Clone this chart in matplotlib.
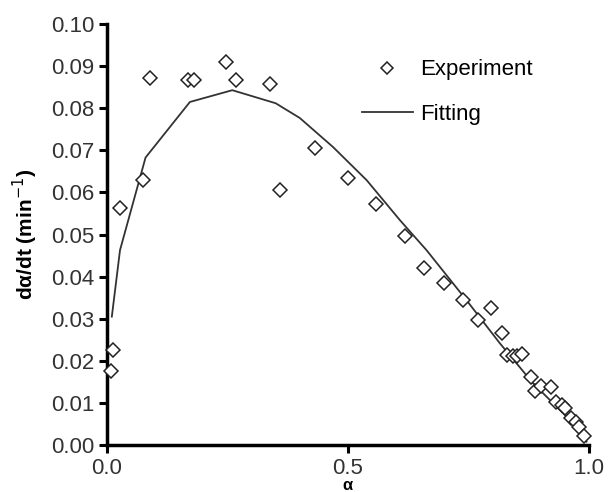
import numpy as np
from matplotlib import pyplot as plt

plt.rcParams['font.family'] = ['Liberation Sans', 'DejaVu Sans']

# experiment points (alpha, d alpha/dt)
exp_alpha = [0.008, 0.012, 0.027, 0.075, 0.089, 0.168, 0.180, 0.247, 0.268, 0.338,
             0.359, 0.432, 0.500, 0.558, 0.618, 0.658, 0.699, 0.739, 0.770, 0.797,
             0.820, 0.830, 0.842, 0.851, 0.861, 0.880, 0.888, 0.900, 0.921, 0.932,
             0.944, 0.950, 0.963, 0.973, 0.979, 0.990]
exp_rate = [0.0176, 0.0226, 0.0563, 0.0629, 0.0872, 0.0867, 0.0867, 0.0910, 0.0867, 0.0857,
            0.0606, 0.0705, 0.0634, 0.0572, 0.0496, 0.0420, 0.0385, 0.0344, 0.0297, 0.0325,
            0.0266, 0.0214, 0.0211, 0.0211, 0.0216, 0.0162, 0.0128, 0.0140, 0.0138, 0.0102,
            0.0095, 0.0088, 0.0064, 0.0055, 0.0043, 0.0021]

# fitted curve
fit_alpha = [0.010, 0.027, 0.080, 0.172, 0.260, 0.350, 0.400, 0.469, 0.539, 0.608,
             0.663, 0.746, 0.815, 0.884, 0.954, 0.995]
fit_rate = [0.0305, 0.0463, 0.0683, 0.0815, 0.0843, 0.0812, 0.0777, 0.0708, 0.0629, 0.0534,
            0.0463, 0.0344, 0.0242, 0.0147, 0.0067, 0.0008]

fig = plt.figure(figsize=(6.09, 4.92), dpi=100)
ax = fig.add_axes([0.1757, 0.0955, 0.7913, 0.8555])

ax.plot(exp_alpha, exp_rate, linestyle='none', marker='D', markersize=7.5,
        markerfacecolor='white', markeredgecolor='#222222', markeredgewidth=1.1,
        label='Experiment', clip_on=False, zorder=3)
ax.plot(fit_alpha, fit_rate, color='#333333', linewidth=1.3, label='Fitting', zorder=2)

ax.set_xlim(0, 1.0)
ax.set_ylim(0, 0.10)
ax.set_xticks([0.0, 0.5, 1.0])
ax.set_xticklabels(['0.0', '0.5', '1.0'])
ax.set_yticks(np.arange(0, 0.101, 0.01))
ax.set_yticklabels(['%.2f' % v for v in np.arange(0, 0.101, 0.01)])

for s in ['top', 'right']:
    ax.spines[s].set_visible(False)
for s in ['left', 'bottom']:
    ax.spines[s].set_linewidth(2.5)
ax.tick_params(axis='both', direction='out', length=6, width=2.2,
               labelsize=16, colors='black', labelcolor='#333333', pad=3)

ax.set_ylabel('d\u03b1/dt (min$^{-1}$)', fontsize=15, fontweight='bold', labelpad=8)
ax.set_xlabel('\u03b1', fontsize=12, fontweight='bold', va='baseline')
ax.xaxis.set_label_coords(0.5, -0.107)

ax.legend(loc='upper left', bbox_to_anchor=(0.529, 0.916), frameon=False,
          fontsize=16, markerscale=0.75, handlelength=2.3, labelspacing=1.07,
          handletextpad=0.3, borderaxespad=0, borderpad=0)

fig.savefig('out.png', dpi=100)
